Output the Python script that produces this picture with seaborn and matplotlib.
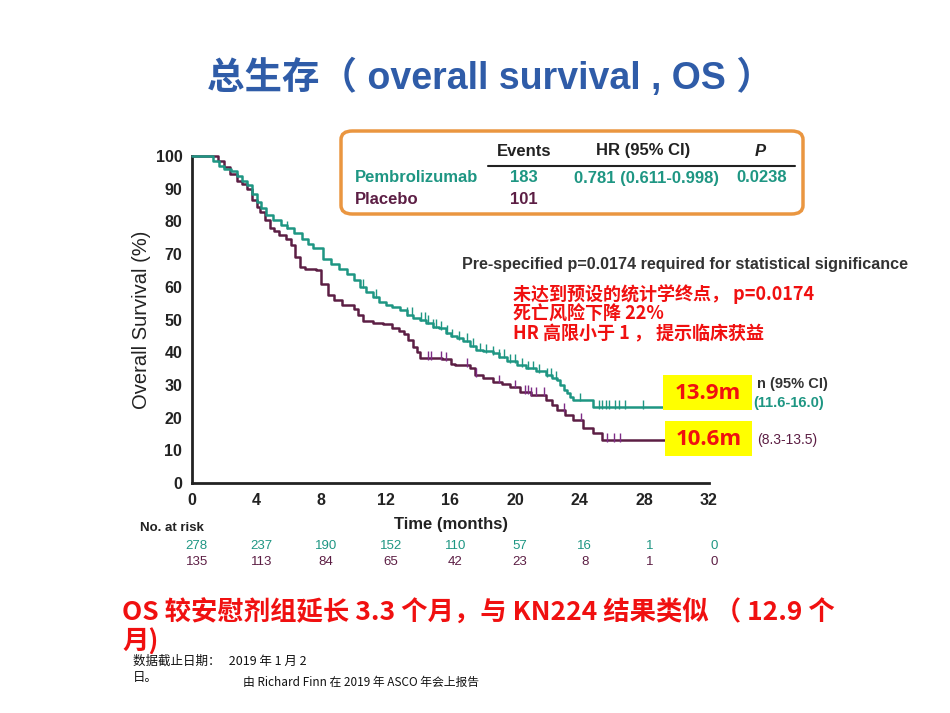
import numpy as np
import pandas as pd
import matplotlib
matplotlib.use("Agg")
import matplotlib.pyplot as plt
import matplotlib.transforms as mtransforms
from matplotlib.patches import FancyBboxPatch, Rectangle
from matplotlib.lines import Line2D
import seaborn as sns

# -------------------- DATA --------------------
pembro_t = [0, 0.9, 1.3, 1.7, 2.0, 2.4, 2.8, 3.1, 3.4, 3.7, 4.0, 4.3, 4.6, 5.0, 5.5,
            5.9, 6.3, 6.8, 7.2, 7.5, 8.1, 8.6, 9.1, 9.6, 10.0, 10.4, 10.8, 11.2, 11.6,
            12.0, 12.4, 12.9, 13.3, 13.7, 14.1, 14.5, 14.9, 15.3, 15.7, 16.0, 16.4,
            16.8, 17.2, 17.6, 18.0, 18.6, 19.0, 19.5, 20.1, 20.7, 21.3, 21.9, 22.3,
            22.6, 22.8, 23.0, 23.2, 23.4, 23.6, 24.8, 29.6]
pembro_s = [100, 100, 98.5, 97, 96, 95.5, 94, 92.5, 91, 88.5, 86, 84, 82, 80.5, 79,
            78, 76.5, 74.5, 73, 72, 68.5, 67, 65.5, 64, 62, 60, 58.5, 57, 55.5,
            54.5, 53.8, 52.8, 51.5, 50.5, 50, 49, 47.8, 47.3, 46, 45, 44.3,
            43.5, 42, 40.7, 40.3, 39.7, 38.6, 37.2, 36, 35.2, 34.2, 33, 32,
            31.5, 30, 28.4, 27.5, 26.3, 25.4, 23.2, 23.2]
placebo_t = [0, 1.3, 1.6, 2.0, 2.35, 2.8, 3.1, 3.4, 3.7, 4.0, 4.2, 4.5, 4.8, 5.1, 5.4,
             5.8, 6.1, 6.4, 6.7, 7.0, 7.7, 8.0, 8.4, 8.8, 9.3, 10.0, 10.3, 10.6, 11.2,
             11.8, 12.4, 12.8, 13.1, 13.4, 13.7, 13.9, 14.1, 15.5, 16.0, 16.3, 17.2,
             17.5, 18.0, 18.6, 19.2, 19.7, 20.3, 21.0, 21.9, 22.3, 22.6, 23.1, 23.6,
             24.2, 24.8, 25.4, 29.6]
placebo_s = [100, 100, 98.5, 96.5, 94.5, 92.5, 91.5, 90, 86.5, 84.5, 83, 80.5, 78, 77, 75.8,
             74.5, 72.8, 69, 66, 65.5, 65, 61, 57.5, 56, 54.5, 53.2, 51.5, 49.5, 49,
             48.5, 47.5, 46.5, 45.5, 43.7, 41.5, 40, 38.2, 37.8, 36.5, 36, 35.2,
             33, 32, 30.9, 30.2, 29.4, 27.8, 27, 25.4, 24, 22.3, 20.8, 19.3,
             16.8, 15.3, 13.1, 13.1]
pembro_cens = [5.9, 10.6, 11.4, 13.3, 13.6, 14.2, 14.4, 14.6, 14.9, 15.1, 15.4, 15.8,
               16.1, 16.5, 17.0, 17.4, 17.8, 18.2, 18.6, 19.0, 19.3, 19.7, 20.0, 20.4,
               20.8, 21.1, 21.5, 22.0, 22.2, 22.5, 24.0, 25.2, 25.4, 25.6, 25.8, 26.2,
               26.4, 26.8, 27.9]
placebo_cens = [14.6, 14.8, 15.4, 15.7, 17.0, 17.6, 19.0, 20.0, 20.6, 20.8, 21.0,
                21.3, 21.8, 23.0, 24.1, 25.7, 26.1, 26.5]

risk_months = [0, 4, 8, 12, 16, 20, 24, 28, 32]
pembro_risk = [278, 237, 190, 152, 110, 57, 16, 1, 0]
placebo_risk = [135, 113, 84, 65, 42, 23, 8, 1, 0]

TEAL = "#1E9683"
PLUM = "#5C1E44"
PLUM_TICK = "#7E2C86"
RED = "#F01010"
BLUE = "#2F5CA8"

# -------------------- FIGURE --------------------
sns.set_theme(style="white")
plt.rcParams["font.family"] = ["Liberation Sans", "Noto Sans CJK SC"]
CJK = ["Noto Sans CJK SC", "Liberation Sans"]

W, H = 950, 713
fig = plt.figure(figsize=(9.5, 7.13), dpi=100)
fx = lambda px: px / W
fy = lambda py: 1 - py / H

ax = fig.add_axes([fx(192), fy(483), fx(709) - fx(192), fy(156) - fy(483)])

km = pd.concat([
    pd.DataFrame({"month": pembro_t, "surv": pembro_s, "arm": "Pembrolizumab"}),
    pd.DataFrame({"month": placebo_t, "surv": placebo_s, "arm": "Placebo"}),
])
sns.lineplot(data=km, x="month", y="surv", hue="arm", estimator=None,
             palette={"Pembrolizumab": TEAL, "Placebo": PLUM},
             hue_order=["Placebo", "Pembrolizumab"],
             drawstyle="steps-post", linewidth=1.8, legend=False, ax=ax)
for ln in ax.get_lines():
    ln.set_clip_on(False)
    ln.set_zorder(3)


def step_at(times, surv, c):
    idx = np.searchsorted(times, c, side="right") - 1
    return surv[idx]


cens = pd.concat([
    pd.DataFrame({"month": pembro_cens, "arm": "Pembrolizumab",
                  "surv": [step_at(pembro_t, pembro_s, c) for c in pembro_cens]}),
    pd.DataFrame({"month": placebo_cens, "arm": "Placebo",
                  "surv": [step_at(placebo_t, placebo_s, c) for c in placebo_cens]}),
])
cens["surv"] = cens["surv"] + 0.9
sns.scatterplot(data=cens, x="month", y="surv", hue="arm", marker="|", s=40,
                palette={"Pembrolizumab": TEAL, "Placebo": PLUM_TICK},
                linewidth=1.0, legend=False, ax=ax, zorder=4)

ax.set_xlim(0, 32)
ax.set_ylim(0, 100)
ax.set_xticks(risk_months)
ax.set_yticks(range(0, 101, 10))
ax.set_xlabel("")
ax.set_ylabel("Overall Survival (%)", fontsize=14.5, labelpad=3, color="#222222")
sns.despine(ax=ax)
for s in ["left", "bottom"]:
    ax.spines[s].set_linewidth(2.0)
    ax.spines[s].set_color("#222222")
ax.tick_params(axis="both", direction="out", length=5, width=1.5, color="#222222",
               labelsize=11.5, pad=2)
for lab in ax.get_xticklabels() + ax.get_yticklabels():
    lab.set_fontweight("bold")
    lab.set_color("#222222")
ax.set_facecolor("none")

# at-risk table
trans = mtransforms.blended_transform_factory(ax.transData, fig.transFigure)
fig.text(fx(451), fy(525), "Time (months)", ha="center", va="center",
         fontsize=12, fontweight="bold", color="#222222")
fig.text(fx(140), fy(528), "No. at risk", ha="left", va="center",
         fontsize=9.5, fontweight="bold", color="#222222")
NARROW = ["Liberation Sans Narrow", "Liberation Sans"]
for m, a, b in zip(risk_months, pembro_risk, placebo_risk):
    ax.text(m + 0.3, fy(546), str(a), transform=trans, ha="center", va="center",
            fontsize=9.5, color=TEAL, family=NARROW)
    ax.text(m + 0.3, fy(562), str(b), transform=trans, ha="center", va="center",
            fontsize=9.5, color=PLUM, family=NARROW)

# title
fig.text(fx(490), fy(78), "总生存（ overall survival , OS ）", ha="center", va="center",
         fontsize=27, fontweight="bold", color=BLUE)

# summary box
box = FancyBboxPatch((fx(341), fy(214)), fx(803) - fx(341), fy(131) - fy(214),
                     boxstyle="round,pad=0,rounding_size=0.012",
                     transform=fig.transFigure, facecolor="white",
                     edgecolor="#EA9640", linewidth=2.5, zorder=1)
fig.patches.append(box)
fig.lines.append(Line2D([fx(488), fx(795)], [fy(166), fy(166)],
                        transform=fig.transFigure, color="#222222", lw=1.5, zorder=2))
hdr = dict(va="center", fontsize=12, fontweight="bold", color="#222222", zorder=3)
fig.text(fx(524), fy(151), "Events", ha="center", **hdr)
fig.text(fx(643), fy(151), "HR (95% CI)", ha="center", **hdr)
fig.text(fx(760), fy(151), "P", ha="center", style="italic", **hdr)
row = dict(va="center", fontsize=12, fontweight="bold", zorder=3)
fig.text(fx(355), fy(178), "Pembrolizumab", ha="left", color=TEAL, **row)
fig.text(fx(524), fy(178), "183", ha="center", color=TEAL, **row)
fig.text(fx(646), fy(178), "0.781 (0.611-0.998)", ha="center", color=TEAL, **row)
fig.text(fx(762), fy(178), "0.0238", ha="center", color=TEAL, **row)
fig.text(fx(355), fy(200), "Placebo", ha="left", color=PLUM, **row)
fig.text(fx(524), fy(200), "101", ha="center", color=PLUM, **row)

fig.text(fx(462), fy(264), "Pre-specified p=0.0174 required for statistical significance",
         ha="left", va="center", fontsize=11.6, fontweight="bold", color="#333333")
red_lines = ["未达到预设的统计学终点， p=0.0174", "死亡风险下降 22%", "HR 高限小于 1 ， 提示临床获益"]
for i, t in enumerate(red_lines):
    fig.text(fx(513), fy(294 + 20 * i), t, ha="left", va="center", fontsize=13,
             fontweight="bold", color=RED, family=CJK)

# median labels
fig.text(fx(757), fy(384), "n (95% CI)", ha="left", va="center", fontsize=10.5,
         fontweight="bold", color="#333333", zorder=3)
fig.text(fx(753), fy(403), "(11.6-16.0)", ha="left", va="center", fontsize=10.5,
         fontweight="bold", color=TEAL, zorder=3)
fig.text(fx(757), fy(440), "(8.3-13.5)", ha="left", va="center", fontsize=10,
         color=PLUM, zorder=3)
for (x0, y0, x1, y1), lab in [((663, 375, 752, 410), "13.9m"), ((665, 421, 752, 456), "10.6m")]:
    fig.patches.append(Rectangle((fx(x0), fy(y1)), fx(x1) - fx(x0), fy(y0) - fy(y1),
                                 transform=fig.transFigure, facecolor="#FFFF00",
                                 edgecolor="none", zorder=5))
    fig.text(fx((x0 + x1) / 2), fy((y0 + y1) / 2 + 1), lab, ha="center", va="center",
             fontsize=16, fontweight="bold", color=RED, family=["Open Sans"], zorder=6)

# bottom notes
fig.text(fx(122), fy(613), "OS 较安慰剂组延长 3.3 个月，与 KN224 结果类似 （ 12.9 个",
         ha="left", va="center", fontsize=19, fontweight="bold", color=RED, family=CJK)
fig.text(fx(122), fy(642), "月)", ha="left", va="center", fontsize=19,
         fontweight="bold", color=RED, family=CJK)
fig.text(fx(133), fy(661), "数据截止日期：   2019 年 1 月 2", ha="left", va="center",
         fontsize=9, color="#111111", family=CJK)
fig.text(fx(133), fy(677), "日。", ha="left", va="center", fontsize=9,
         color="#111111", family=CJK)
fig.text(fx(243), fy(682), "由 Richard Finn 在 2019 年 ASCO 年会上报告", ha="left",
         va="center", fontsize=8.5, color="#111111", family=CJK)

fig.savefig("out.png", dpi=100, facecolor="white")
